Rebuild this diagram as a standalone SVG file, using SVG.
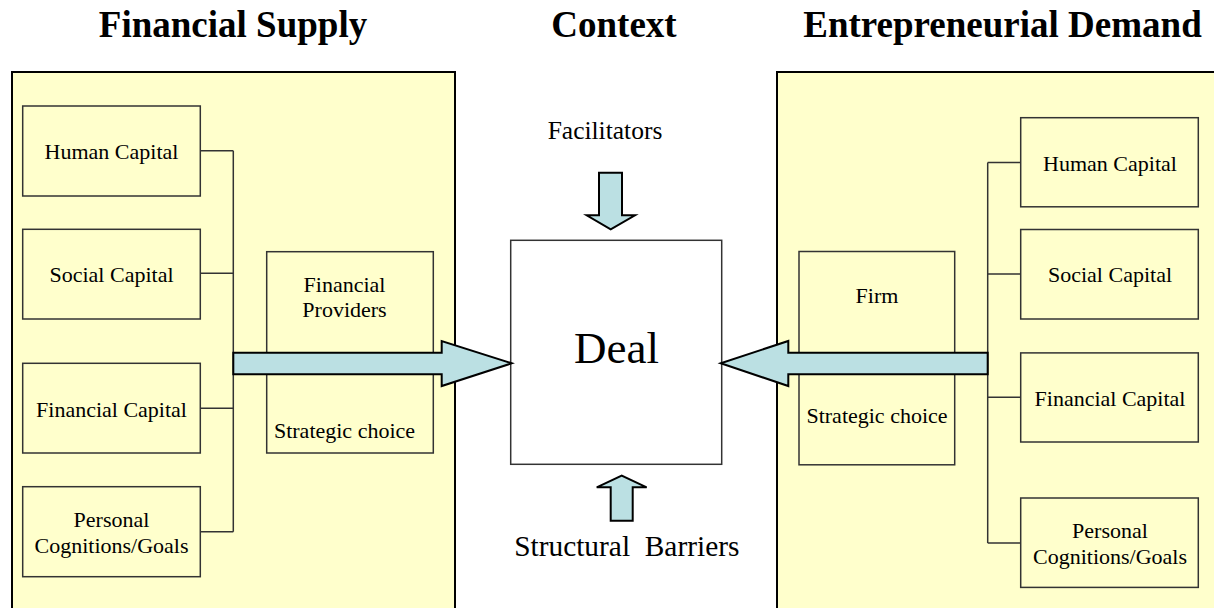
<svg xmlns="http://www.w3.org/2000/svg" width="1214" height="608" viewBox="0 0 1214 608">
<style>
.title{font-family:"Liberation Serif","Times New Roman",serif;font-weight:bold;font-size:37px;fill:#000;text-anchor:middle}
.lbl{font-family:"Liberation Serif","Times New Roman",serif;font-size:22px;fill:#000;text-anchor:middle}
.panel{fill:#FFFFCC;stroke:#000;stroke-width:2}
.box{fill:#FFFFCC;stroke:#333;stroke-width:1.5}
.deal{fill:#fff;stroke:#333;stroke-width:1.5}
.conn{fill:none;stroke:#333;stroke-width:1.5}
.arrow{fill:#BBE0E3;stroke:#000;stroke-width:2;stroke-linejoin:miter}
</style>
<rect width="1214" height="608" fill="#fff"/>
<g id="titles">
<text class="title" x="233" y="37">Financial Supply</text>
<text class="title" x="614" y="37">Context</text>
<text class="title" x="1002.5" y="37">Entrepreneurial Demand</text>
</g>
<g id="supply-panel"><rect class="panel" x="12" y="72" width="443" height="560"/></g>
<g id="demand-panel"><rect class="panel" x="777" y="72" width="460" height="560"/></g>
<g id="s-human"><rect class="box" x="22.7" y="106" width="177.6" height="90"/><text class="lbl" x="111.5" y="159">Human Capital</text></g>
<g id="s-social"><rect class="box" x="22.7" y="229.3" width="177.6" height="89.7"/><text class="lbl" x="111.5" y="281.7">Social Capital</text></g>
<g id="s-financial"><rect class="box" x="22.7" y="363.3" width="177.6" height="89.7"/><text class="lbl" x="111.5" y="416.7">Financial Capital</text></g>
<g id="s-personal"><rect class="box" x="22.7" y="486.7" width="177.6" height="90"/><text class="lbl" x="111.5" y="526.7">Personal</text><text class="lbl" x="111.5" y="552.7">Cognitions/Goals</text></g>
<g id="providers"><rect class="box" x="266.7" y="251.7" width="166.6" height="201.3"/><text class="lbl" x="344.5" y="291.7">Financial</text><text class="lbl" x="344.5" y="317.3">Providers</text><text class="lbl" x="344.5" y="438.3">Strategic choice</text></g>
<g id="deal"><rect class="deal" x="510.7" y="240.3" width="211" height="224"/><text class="lbl" x="616.5" y="363.3" style="font-size:45px">Deal</text></g>
<g id="facilitators"><text class="lbl" x="605" y="139.3" style="font-size:25.5px">Facilitators</text></g>
<g id="barriers"><text class="lbl" x="626.8" y="556" xml:space="preserve" style="font-size:29.4px">Structural  Barriers</text></g>
<g id="firm"><rect class="box" x="799" y="251.5" width="155.7" height="213.3"/><text class="lbl" x="877" y="302.7">Firm</text><text class="lbl" x="877" y="423.3">Strategic choice</text></g>
<g id="d-human"><rect class="box" x="1020.7" y="117.7" width="177.6" height="89.1"/><text class="lbl" x="1110" y="171.1">Human Capital</text></g>
<g id="d-social"><rect class="box" x="1020.7" y="229.5" width="177.6" height="89.5"/><text class="lbl" x="1110" y="282">Social Capital</text></g>
<g id="d-financial"><rect class="box" x="1020.7" y="352.9" width="177.6" height="89.1"/><text class="lbl" x="1110" y="406">Financial Capital</text></g>
<g id="d-personal"><rect class="box" x="1020.7" y="498" width="177.6" height="89.4"/><text class="lbl" x="1110" y="538">Personal</text><text class="lbl" x="1110" y="564.4">Cognitions/Goals</text></g>
<g id="connectors">
<path class="conn" d="M200.3 150.7H233.3M200.3 273.3H233.3M200.3 408.3H233.3M200.3 531.7H233.3M233.3 150.7V531.7"/>
<path class="conn" d="M1020.7 162.4H987.7M1020.7 273.9H987.7M1020.7 397.3H987.7M1020.7 543H987.7M987.7 162.4V543"/>
<polygon class="arrow" points="233.3,352.7 441.7,352.7 441.7,341 511.7,363.3 441.7,386 441.7,374.3 233.3,374.3"/>
<polygon class="arrow" points="987.7,352.7 788.3,352.7 788.3,341 720.7,363.3 788.3,386 788.3,374.3 987.7,374.3"/>
<polygon class="arrow" points="599,172.7 622,172.7 622,215.3 635,215.3 610.7,229.3 586.7,215.3 599,215.3"/>
<polygon class="arrow" points="610.7,520.7 632.7,520.7 632.7,487.3 646.7,487.3 621.7,475.7 596.7,487.3 610.7,487.3"/>
</g>
</svg>
